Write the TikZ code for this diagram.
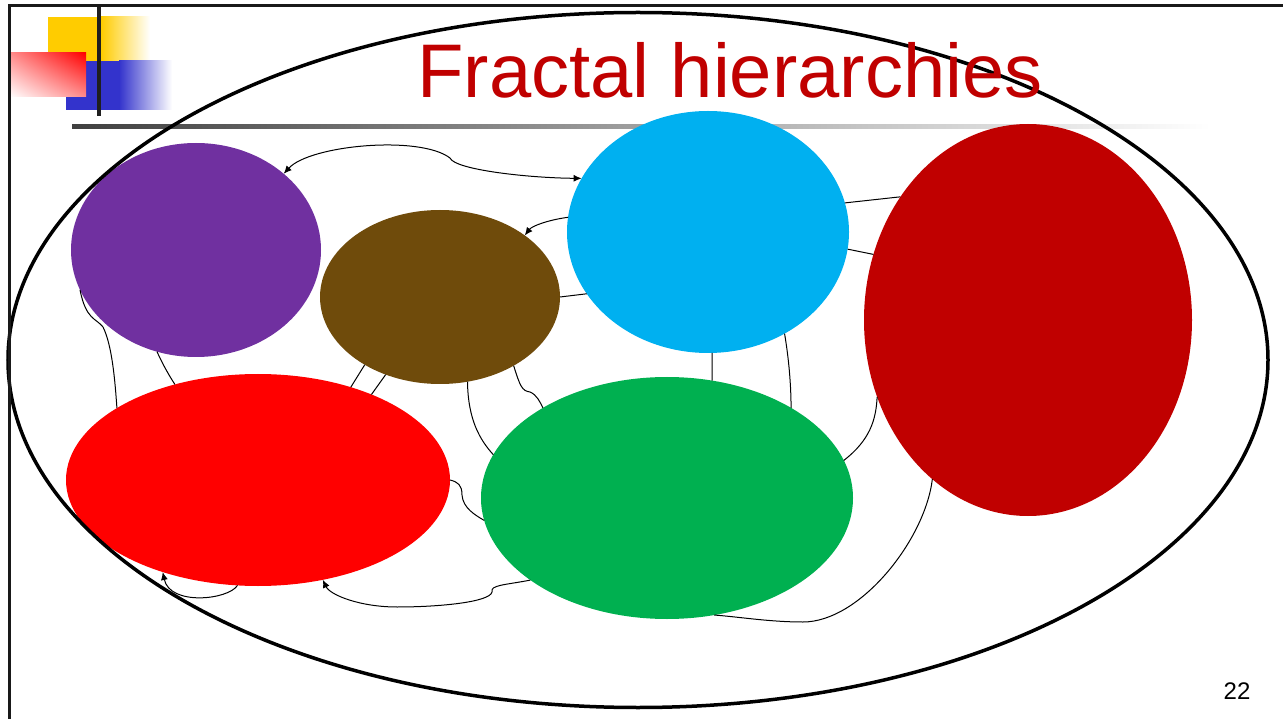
\documentclass[tikz,border=0pt]{standalone}
\usepackage{fontspec}
\setmainfont{Liberation Sans}
\usepackage{xcolor}
\usetikzlibrary{shapes.geometric,arrows.meta,shadings}

\definecolor{titlered}{HTML}{C00000}
\definecolor{purp}{HTML}{7030A0}
\definecolor{brwn}{HTML}{6F4B0B}
\definecolor{skyb}{HTML}{00B0F0}
\definecolor{darkr}{HTML}{C00000}
\definecolor{brightr}{HTML}{FF0000}
\definecolor{grn}{HTML}{00B050}
\definecolor{logoy}{HTML}{FFCC00}
\definecolor{logob}{HTML}{3333CC}

\begin{document}
\begin{tikzpicture}[
    x=1pt, y=-1pt,
    blob/.style={ellipse, draw=none, inner sep=0pt, outer sep=0pt},
    link/.style={black, line width=1pt},
    arr/.style={link, -{Latex[length=8pt,width=7pt]}},
    twoarr/.style={link, {Latex[length=8pt,width=7pt]}-{Latex[length=8pt,width=7pt]}},
  ]
  \useasboundingbox (0,0) rectangle (1283,719);

  % slide logo in the corner
  \fill[logoy] (48,17) rectangle (101,61);
  \shade[left color=logoy, right color=white] (101,17) rectangle (150,61);
  \fill[logob] (66,61) rectangle (119,110);
  \shade[left color=logob, right color=white] (119,61) rectangle (172,110);
  \shade[upper right=brightr, lower left=white,
         upper left=brightr!45, lower right=brightr!45] (10,53) rectangle (86,97);
  \fill[black!88] (97,5) rectangle (101,116);
  \shade[left color=black!75, middle color=black!45, right color=white] (72,125) rectangle (1210,129);

  % the six sub-systems
  \node[blob, fill=purp,    minimum width=250pt, minimum height=214pt] (pur) at (196,250) {};
  \node[blob, fill=brwn,    minimum width=240pt, minimum height=174pt] (brn) at (440,297) {};
  \node[blob, fill=skyb,    minimum width=282pt, minimum height=242pt] (cyn) at (708,232) {};
  \node[blob, fill=darkr,   minimum width=328pt, minimum height=392pt] (drd) at (1028,320) {};
  \node[blob, fill=brightr, minimum width=384pt, minimum height=212pt] (red) at (258,480) {};
  \node[blob, fill=grn,     minimum width=372pt, minimum height=242pt] (grn) at (667,498) {};

  % links between them
  \draw[twoarr] (pur.41) .. controls (310,145) and (420,135) .. (450,158)
                          .. controls (455,170) and (530,178) .. (cyn.157);
  \draw[arr] (cyn.174) .. controls (548,220) and (532,226) .. (brn.36);
  \draw[link] (brn.0) -- (cyn.207);
  \draw[link] (cyn.12) -- (drd.136);
  \draw[link] (cyn.-7) -- (drd.157);

  \draw[link] (pur.199) .. controls (86,320) and (96,318) .. (103,327)
                        .. controls (112,345) and (115,380) .. (red.153);
  \draw[link] (pur.249) .. controls (163,365) and (170,377) .. (red.131);
  \draw[arr] (red.259) .. controls (228,600) and (170,606) .. (red.224);

  \draw[link] (brn.222) -- (red.45);
  \draw[link] (brn.235) -- (red.37);
  \draw[link] (brn.288) .. controls (468,420) and (480,440) .. (grn.166);
  \draw[link] (brn.317) .. controls (520,386) and (522,391) .. (530,392)
                        .. controls (537,395) and (540,402) .. (grn.144);
  \draw[link] (red.0) .. controls (458,482) and (462,485) .. (462,495)
                      .. controls (463,508) and (475,515) .. (grn.187);
  \draw[arr] (grn.211) .. controls (505,585) and (490,585) .. (492,592)
                       .. controls (490,602) and (440,607) .. (397,607)
                       .. controls (360,607) and (330,595) .. (red.303);

  \draw[link] (cyn.272) -- (grn.69);
  \draw[link] (cyn.307) .. controls (789,360) and (791,385) .. (grn.36);
  \draw[link] (drd.207) .. controls (876,420) and (870,440) .. (grn.12);
  \draw[link] (drd.239) .. controls (925,540) and (860,622) .. (803,622)
                        .. controls (770,622) and (740,617) .. (grn.292);

  % enclosing whole
  \node[ellipse, draw, line width=3.5pt, inner sep=0pt,
        minimum width=1260pt, minimum height=695pt] (whole) at (638,360) {};

  % title and page number
  \node[anchor=base, text=titlered, font=\fontsize{76}{88}\selectfont] (title) at (730,98) {Fractal hierarchies};
  \node[anchor=base, font=\fontsize{24}{28}\selectfont] (pagenum) at (1237,699) {22};

  % slide frame
  \draw[line width=3pt, black!90] (9,719) -- (9,6) -- (1283,6);
\end{tikzpicture}
\end{document}
